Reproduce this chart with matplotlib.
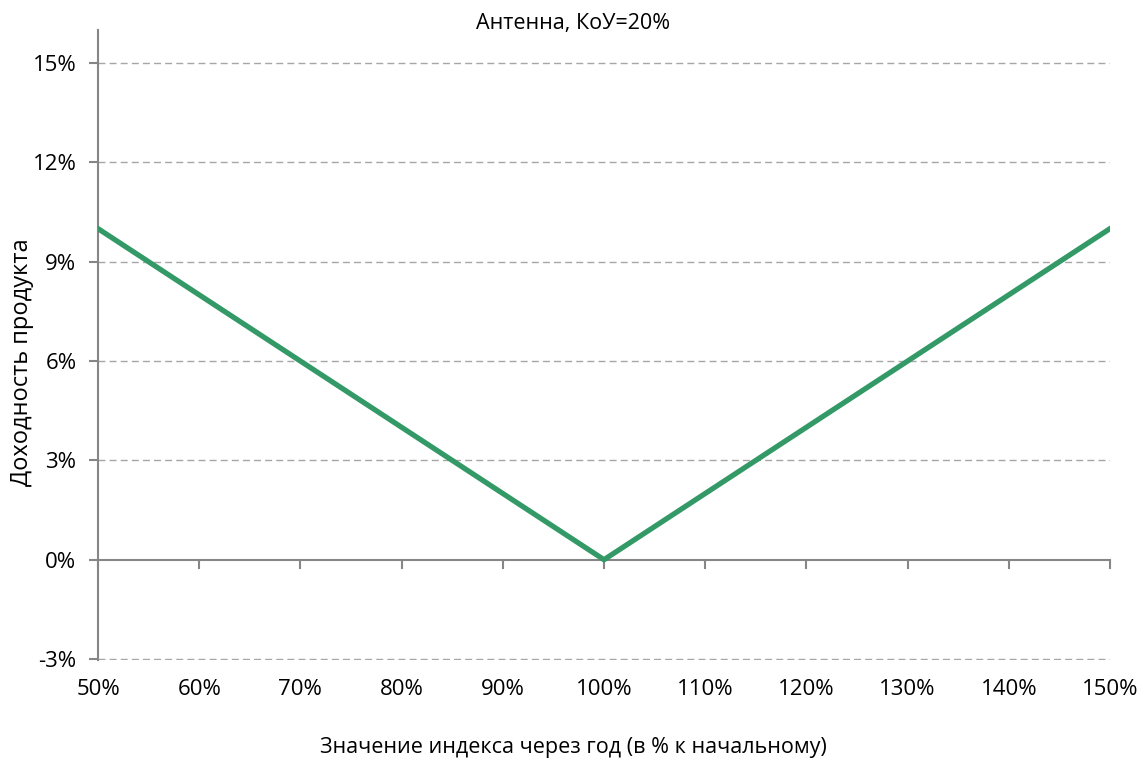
import numpy as np
import matplotlib
matplotlib.use("Agg")
import matplotlib.pyplot as plt
from matplotlib.ticker import FuncFormatter

plt.rcParams['font.family'] = ['Open Sans', 'DejaVu Sans']

# index level after one year, % of the initial value
index_level = [50, 60, 70, 80, 90, 100, 110, 120, 130, 140, 150]
# product yield, %
product_yield = [10, 8, 6, 4, 2, 0, 2, 4, 6, 8, 10]

y_ticks = [-3, 0, 3, 6, 9, 12, 15]
x_ticks = [50, 60, 70, 80, 90, 100, 110, 120, 130, 140, 150]

title = "Антенна, КоУ=20%"
x_label = "Значение индекса через год (в % к начальному)"
y_label = "Доходность продукта"

axis_grey = "#868686"

fig = plt.figure(figsize=(11.46, 7.62), dpi=100)
ax = fig.add_axes([98 / 1146, 1 - 660 / 762, (1110 - 98) / 1146, (660 - 30) / 762])

ax.set_xlim(50, 150)
ax.set_ylim(-3.03, 16)

# dashed horizontal gridlines, skipping the zero line which is the x axis
for y in y_ticks:
    if y != 0:
        ax.axhline(y, color="#a6a6a6", lw=1, ls=(0, (5, 3)), zorder=1)

ax.plot(index_level, product_yield, color="#339966", lw=3.8,
        solid_joinstyle="miter", zorder=3)

for side in ("top", "right"):
    ax.spines[side].set_visible(False)
ax.spines["left"].set_color(axis_grey)
ax.spines["left"].set_linewidth(1.5)
ax.spines["bottom"].set_position(("data", 0))
ax.spines["bottom"].set_color(axis_grey)
ax.spines["bottom"].set_linewidth(1.5)

pct = FuncFormatter(lambda v, p: f"{v:.0f}%")

ax.set_yticks(y_ticks)
ax.yaxis.set_major_formatter(pct)
ax.tick_params(axis="y", direction="out", length=6.5, width=1.5, color=axis_grey,
               labelsize=16, pad=9)

ax.set_xticks(x_ticks)
ax.tick_params(axis="x", direction="out", length=6.5, width=1.5, color=axis_grey,
               labelbottom=False)

# x tick labels sit at the bottom of the plot area, below the zero axis
low = ax.secondary_xaxis(0)
low.set_xticks(x_ticks)
low.xaxis.set_major_formatter(pct)
low.spines["bottom"].set_visible(False)
low.tick_params(axis="x", length=0, labelsize=16, pad=14)

fig.text(0.5, 1 - 23 / 762, title, ha="center", va="center", fontsize=15.5)
fig.text(0.5, 1 - 748 / 762, x_label, ha="center", va="center", fontsize=15.5)
fig.text(22 / 1146, 1 - 362 / 762, y_label, ha="center", va="center",
         rotation=90, fontsize=17)

fig.savefig("out.png", dpi=100)
